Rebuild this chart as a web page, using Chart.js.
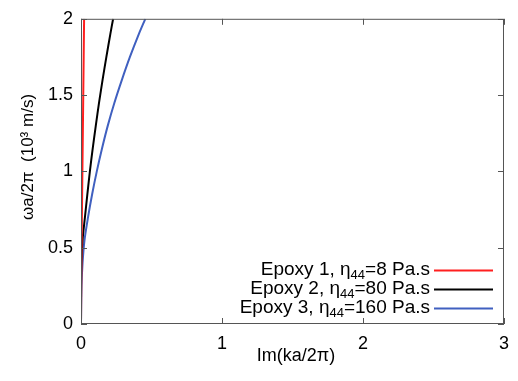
<!DOCTYPE html>
<html lang="en">
<head>
  <meta charset="UTF-8" />
  <title>Im(ka/2π) vs ωa/2π</title>
  <script src="https://cdn.jsdelivr.net/npm/chart.js"></script>
  <style>
    body { margin: 0; background: #fff; }
    #wrap { width: 518px; height: 381px; }
  </style>
</head>
<body>
  <div id="wrap"><canvas id="grafico" width="518" height="381"></canvas></div>

  <script>
    // data (x = Im(ka/2pi), y = omega a / 2pi in 10^3 m/s)
    const seriesNames = ['Epoxy 1', 'Epoxy 2', 'Epoxy 3'];
    const etaValues = [8, 80, 160];
    const seriesColors = ['#ff1f1f', '#000000', '#4060c0'];

    const epoxy1Y = [0, 0.5, 1, 1.5, 2];
    const epoxy1X = [0, 0.004, 0.01, 0.016, 0.022];

    const epoxy2Y = [0, 0.25, 0.4, 0.55, 0.7, 0.85, 1.0, 1.15, 1.3, 1.45, 1.6, 1.75, 1.9, 2.0];
    const epoxy2X = [0, 0.0005, 0.003, 0.011, 0.028, 0.045, 0.063, 0.083, 0.105, 0.128, 0.153, 0.18, 0.208, 0.228];

    const epoxy3Y = [0, 0.25, 0.4, 0.55, 0.7, 0.85, 1.0, 1.15, 1.3, 1.45, 1.6, 1.75, 1.9, 2.0];
    const epoxy3X = [0, 0.004, 0.011, 0.025, 0.05, 0.079, 0.112, 0.149, 0.19, 0.237, 0.29, 0.347, 0.41, 0.456];

    const xTicks = [0, 1, 2, 3];
    const yTicks = [0, 0.5, 1, 1.5, 2];

    const FONT = '"Liberation Sans", Arial, sans-serif';

    function puntos(xs, ys) {
      return xs.map((x, i) => ({ x: x, y: ys[i] }));
    }

    const datasets = [
      { xs: epoxy1X, ys: epoxy1Y },
      { xs: epoxy2X, ys: epoxy2Y },
      { xs: epoxy3X, ys: epoxy3Y }
    ].map((s, i) => ({
      label: seriesNames[i],
      data: puntos(s.xs, s.ys),
      borderColor: seriesColors[i],
      backgroundColor: seriesColors[i],
      borderWidth: 2,
      pointRadius: 0,
      showLine: true,
      tension: 0.3
    }));

    // gnuplot-like frame, inward ticks, axis titles and legend
    const marco = {
      id: 'marco',
      afterDraw(chart) {
        const { ctx, chartArea: a, scales } = chart;
        const x = scales.x, y = scales.y;
        ctx.save();
        ctx.strokeStyle = '#555';
        ctx.lineWidth = 1;
        ctx.strokeRect(a.left + 0.5, a.top + 0.5, a.right - a.left - 1, a.bottom - a.top - 1);
        ctx.beginPath();
        xTicks.forEach(v => {
          const px = Math.round(x.getPixelForValue(v)) + 0.5;
          ctx.moveTo(px, a.bottom); ctx.lineTo(px, a.bottom - 6);
          ctx.moveTo(px, a.top); ctx.lineTo(px, a.top + 6);
        });
        yTicks.forEach(v => {
          const py = Math.round(y.getPixelForValue(v)) + 0.5;
          ctx.moveTo(a.left, py); ctx.lineTo(a.left + 6, py);
          ctx.moveTo(a.right, py); ctx.lineTo(a.right - 6, py);
        });
        ctx.stroke();

        ctx.fillStyle = '#000';
        ctx.font = '18px ' + FONT;
        ctx.textAlign = 'center';
        ctx.textBaseline = 'middle';
        ctx.fillText('Im(ka/2π)', 296, 356);

        ctx.save();
        ctx.translate(28, 157);
        ctx.rotate(-Math.PI / 2);
        ctx.font = '17px ' + FONT;
        ctx.fillText('ωa/2π  (10³ m/s)', 0, 0);
        ctx.restore();

        // legend
        const textRight = 430;
        const rows = [270, 289, 308];
        rows.forEach((ry, i) => {
          const parts = [
            { t: seriesNames[i] + ', η', f: '19px ' + FONT, dy: 0 },
            { t: '44', f: '13px ' + FONT, dy: 5 },
            { t: '=' + etaValues[i] + ' Pa.s', f: '19px ' + FONT, dy: 0 }
          ];
          let total = 0;
          parts.forEach(p => { ctx.font = p.f; p.w = ctx.measureText(p.t).width; total += p.w; });
          let cx = textRight - total;
          ctx.textAlign = 'left';
          ctx.textBaseline = 'middle';
          parts.forEach(p => {
            ctx.font = p.f;
            ctx.fillText(p.t, cx, ry + p.dy);
            cx += p.w;
          });
          ctx.strokeStyle = seriesColors[i];
          ctx.lineWidth = 2;
          ctx.beginPath();
          ctx.moveTo(434, ry + 0.5);
          ctx.lineTo(493, ry + 0.5);
          ctx.stroke();
        });
        ctx.restore();
      }
    };

    const etiqueta = v => String(v);

    new Chart(document.getElementById('grafico'), {
      type: 'scatter',
      data: { datasets: datasets },
      options: {
        responsive: false,
        animation: false,
        layout: { padding: { left: 0, right: 5, top: 11, bottom: 0 } },
        plugins: {
          legend: { display: false },
          tooltip: { enabled: false }
        },
        scales: {
          x: {
            type: 'linear',
            min: 0, max: 3,
            afterFit(s) { s.height = 57; },
            afterBuildTicks(s) { s.ticks = xTicks.map(v => ({ value: v })); },
            grid: { display: false, drawTicks: false },
            border: { display: false },
            ticks: { color: '#000', font: { family: FONT, size: 18 }, padding: 9, callback: etiqueta }
          },
          y: {
            type: 'linear',
            min: 0, max: 2,
            afterFit(s) { s.width = 81; },
            afterBuildTicks(s) { s.ticks = yTicks.map(v => ({ value: v })); },
            grid: { display: false, drawTicks: false },
            border: { display: false },
            ticks: { color: '#000', font: { family: FONT, size: 18 }, padding: 8, callback: etiqueta }
          }
        }
      },
      plugins: [marco]
    });
  </script>
</body>
</html>
